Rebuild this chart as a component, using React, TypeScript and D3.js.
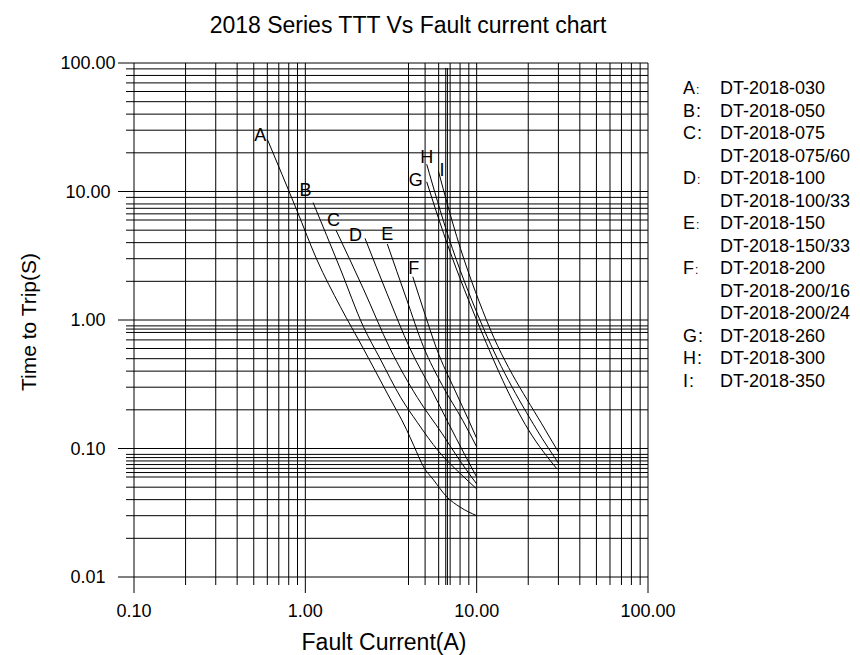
import React from 'react';
import * as d3 from 'd3';

const chartTitle = '2018 Series TTT Vs Fault current chart';
const xTitle = 'Fault Current(A)';
const yTitle = 'Time to Trip(S)';

// axis ticks (decades) and their labels
const xMajor = [0.1, 1, 10, 100];
const xTickLabels = ['0.10', '1.00', '10.00', '100.00'];
const yMajor = [0.01, 0.1, 1, 10, 100];
const yTickLabels = ['0.01', '0.10', '1.00', '10.00', '100.00'];

// the printed grid is not a plain log grid: some lines missing, some extra
const xMinor = [0.2, 0.3, 0.4, 0.5, 0.6, 0.7, 0.8, 0.9, 4, 5, 6, 7, 8, 9, 20, 30, 40, 50, 60, 70, 80, 90];
const xExtra = [6.6, 6.75]; // short double line near 6.7 A
const yMinor = [
  0.02, 0.03, 0.04, 0.05, 0.06, 0.065, 0.07, 0.075, 0.08, 0.085, 0.09,
  0.2, 0.3, 0.4, 0.5, 0.6, 0.7, 0.8, 0.85, 0.9,
  2, 3, 4, 5, 6, 6.7, 7.4, 8, 9,
  20, 30, 40, 50, 60, 70, 80, 90,
];

// curves: [current (A), time (s)]
const curveA = [[0.6, 25.5], [0.89, 7.2], [1.17, 2.93], [1.6, 1.27], [2.18, 0.6], [3.0, 0.27], [3.9, 0.14], [4.3, 0.105], [4.9, 0.072], [5.6, 0.057], [6.7, 0.042], [8.0, 0.035], [10, 0.03]];
const curveB = [[1.11, 8.2], [1.6, 2.5], [2.18, 0.89], [2.73, 0.5], [3.6, 0.25], [4.5, 0.16], [6.0, 0.095], [8.0, 0.064], [10, 0.0485]];
const curveC = [[1.51, 5.0], [2.18, 1.75], [3.12, 0.6], [4.5, 0.25], [6.3, 0.13], [8.0, 0.08], [10, 0.053]];
const curveD = [[2.23, 4.32], [3.0, 1.6], [4.08, 0.6], [5.5, 0.28], [6.8, 0.16], [8.5, 0.09], [10, 0.06]];
const curveE = [[3.01, 3.9], [3.9, 1.45], [4.89, 0.62], [6.3, 0.31], [8.3, 0.165], [10, 0.103]];
const curveF = [[4.24, 2.17], [5.0, 1.1], [5.83, 0.6], [7.5, 0.28], [9.0, 0.165], [10, 0.12]];
const curveG = [[5.11, 11.9], [6.42, 4.7], [10, 1.0], [20.1, 0.139], [29.5, 0.069]];
const curveH = [[5.11, 16.3], [6.84, 4.46], [10.45, 1.0], [22.5, 0.139], [30, 0.077]];
const curveI = [[5.98, 14.4], [7.65, 4.46], [11.4, 1.0], [25.2, 0.139], [30, 0.094]];

const curveNames = ['A', 'B', 'C', 'D', 'E', 'F', 'G', 'H', 'I'];
const curves = [curveA, curveB, curveC, curveD, curveE, curveF, curveG, curveH, curveI];
// where each letter sits next to the start of its curve (px)
const labelOffsets = [[-1, 2], [-1.5, -6.5], [4, -4], [-3, 2.5], [6, -4], [6.5, -2.5], [-4, 4.5], [6.5, -1.5], [6, 5]];

// legend
const legendKeys = ['A', 'B', 'C', '', 'D', '', 'E', '', 'F', '', '', 'G', 'H', 'I'];
const legendSmallColon = ['A', 'D', 'E', 'F'];
const legendModels = [
  'DT-2018-030', 'DT-2018-050', 'DT-2018-075', 'DT-2018-075/60', 'DT-2018-100', 'DT-2018-100/33',
  'DT-2018-150', 'DT-2018-150/33', 'DT-2018-200', 'DT-2018-200/16', 'DT-2018-200/24',
  'DT-2018-260', 'DT-2018-300', 'DT-2018-350',
];

export default function App() {
  const W = 860, H = 655;
  const left = 134, right = 648, top = 63, bottom = 577;
  const font = '"Liberation Sans", Arial, sans-serif';

  const x = d3.scaleLog().domain([0.1, 100]).range([left, right]);
  const y = d3.scaleLog().domain([0.01, 100]).range([bottom, top]);
  const line = d3.line<number[]>()
    .x(d => x(d[0]))
    .y(d => y(d[1]))
    .curve(d3.curveMonotoneX);

  return (
    <svg width={W} height={H} style={{ position: 'absolute', left: 0, top: 0, background: '#fff' }}
      fontFamily={font}>
      <text x={408} y={33} fontSize={23} textAnchor="middle" fill="#000">{chartTitle}</text>

      {/* grid */}
      <g stroke="#000" strokeWidth={1}>
        {yMinor.map(v => <line key={'ym' + v} x1={left - 8} x2={right} y1={y(v)} y2={y(v)} />)}
        {yMajor.map(v => <line key={'yM' + v} x1={left - 16} x2={right} y1={y(v)} y2={y(v)} />)}
        {xMinor.map(v => <line key={'xm' + v} x1={x(v)} x2={x(v)} y1={top} y2={bottom + 8} />)}
        {xExtra.map(v => <line key={'xe' + v} x1={x(v)} x2={x(v)} y1={top + 5} y2={bottom + 8} />)}
        {xMajor.map(v => <line key={'xM' + v} x1={x(v)} x2={x(v)} y1={top} y2={bottom + 16} />)}
      </g>

      {/* tick labels */}
      <g fontSize={18} fill="#000">
        {xMajor.map((v, i) => (
          <text key={'xl' + v} x={x(v)} y={617} textAnchor="middle">{xTickLabels[i]}</text>
        ))}
        {yMajor.map((v, i) => (
          <text key={'yl' + v} x={88} y={y(v)} dy="0.36em" textAnchor="middle">{yTickLabels[i]}</text>
        ))}
      </g>

      <text x={384} y={650} fontSize={23} textAnchor="middle" fill="#000">{xTitle}</text>
      <text transform="translate(28,322) rotate(-90)" dy="0.36em" fontSize={21} textAnchor="middle" fill="#000">{yTitle}</text>

      {/* curves */}
      <g fill="none" stroke="#000" strokeWidth={1}>
        {curves.map((c, i) => <path key={curveNames[i]} d={line(c) || ''} />)}
      </g>
      <g fontSize={18} fill="#000" textAnchor="end">
        {curves.map((c, i) => (
          <text key={'lb' + i} x={x(c[0][0]) + labelOffsets[i][0]} y={y(c[0][1]) + labelOffsets[i][1]}>
            {curveNames[i]}
          </text>
        ))}
      </g>

      {/* legend */}
      <g fontSize={18} fill="#000">
        {legendModels.map((m, i) => (
          <g key={m} transform={`translate(0,${94 + i * 22.5})`}>
            {legendKeys[i] && (
              <text x={683}>
                {legendKeys[i]}
                {legendSmallColon.includes(legendKeys[i])
                  ? <tspan fontSize={12} dx={1}>:</tspan>
                  : <tspan dx={1}>:</tspan>}
              </text>
            )}
            <text x={720}>{m}</text>
          </g>
        ))}
      </g>
    </svg>
  );
}
